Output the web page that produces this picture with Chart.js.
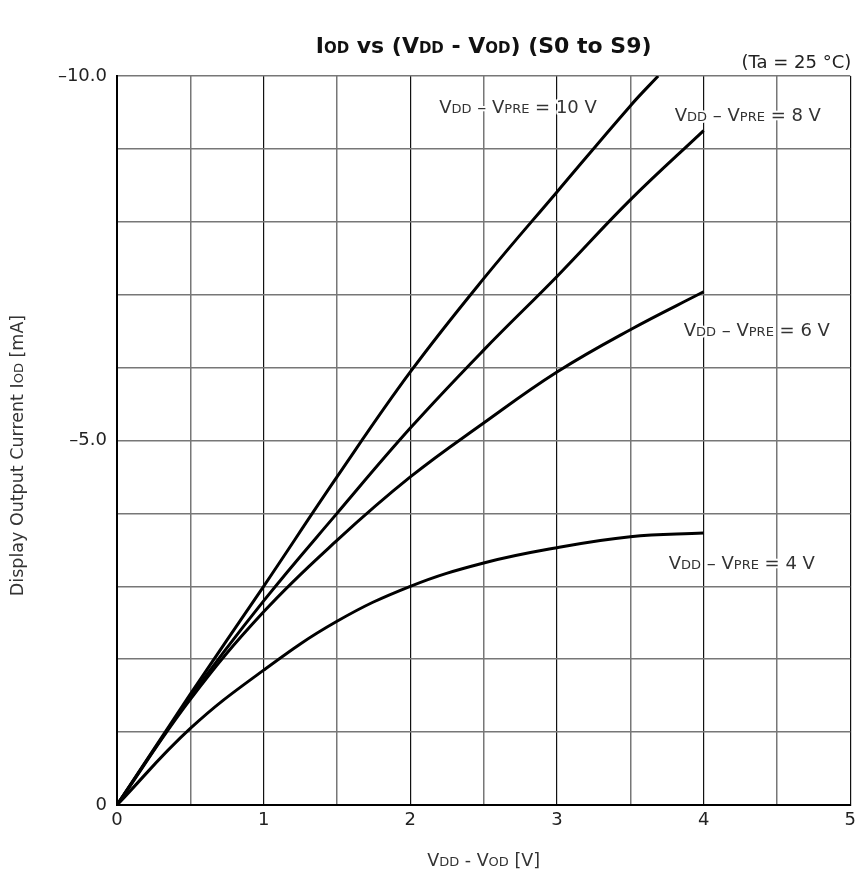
<!DOCTYPE html>
<html>
<head>
<meta charset="utf-8">
<script src="https://cdn.jsdelivr.net/npm/chart.js@4.4.0/dist/chart.umd.min.js"></script>
<style>
  html, body { margin: 0; padding: 0; background: #fff; }
  #wrap { width: 861px; height: 873px; }
</style>
</head>
<body>
<div id="wrap"><canvas id="chart" width="861" height="873"></canvas></div>
<script>
// V_DD - V_OD sample points [V]
const xVolts = [0, 0.5, 1, 1.5, 2, 2.5, 3, 3.5, 4];
const xVolts10 = [0, 0.5, 1, 1.5, 2, 2.5, 3, 3.5, 3.69];

// I_OD [mA] for each V_DD - V_PRE
const iPre10 = [0, -1.52, -3.0, -4.5, -5.94, -7.22, -8.41, -9.59, -10.0];
const iPre8 = [0, -1.48, -2.8, -4.0, -5.17, -6.24, -7.25, -8.3, -9.25];
const iPre6 = [0, -1.45, -2.65, -3.63, -4.5, -5.24, -5.94, -6.52, -7.04];
const iPre4 = [0, -1.05, -1.85, -2.52, -3.0, -3.32, -3.53, -3.68, -3.73];

const yTickLabels = { '-10': '\u201310.0', '-5': '\u20135.0', '0': '0' };
const xTickLabels = ['0', '1', '2', '3', '4', '5'];

// curve labels: [pre-voltage text, x, y] anchored in data units (left edge, middle)
const curveLabels = [
  ['10 V', 2.197, -9.59],
  ['8 V', 3.803, -9.48],
  ['6 V', 3.864, -6.53],
  ['4 V', 3.762, -3.33],
];

const FONT = '"DejaVu Sans", "Liberation Sans", sans-serif';

function toPoints(xs, ys) {
  return xs.map((x, i) => ({ x: x, y: ys[i] }));
}

// draw text made of big / small (subscript-like) parts
function drawRich(ctx, parts, x, y, opts) {
  const big = opts.big, small = opts.small, weight = opts.bold ? 'bold ' : '';
  let total = 0;
  parts.forEach(p => {
    ctx.font = weight + (p[1] ? small : big) + 'px ' + FONT;
    total += ctx.measureText(p[0]).width;
  });
  let cx = x;
  if (opts.align === 'center') cx = x - total / 2;
  if (opts.align === 'right') cx = x - total;
  ctx.textBaseline = 'alphabetic';
  ctx.textAlign = 'left';
  parts.forEach(p => {
    ctx.font = weight + (p[1] ? small : big) + 'px ' + FONT;
    if (opts.halo) {
      ctx.strokeStyle = '#fff';
      ctx.lineWidth = 4;
      ctx.lineJoin = 'round';
      ctx.strokeText(p[0], cx, y);
    }
    ctx.fillStyle = opts.color || '#222';
    ctx.fillText(p[0], cx, y);
    cx += ctx.measureText(p[0]).width;
  });
}

const textPlugin = {
  id: 'textPlugin',
  afterDraw(chart) {
    const ctx = chart.ctx;
    const xs = chart.scales.x, ys = chart.scales.y;
    const area = chart.chartArea;
    ctx.save();
    // title
    drawRich(ctx, [['I', 0], ['OD', 1], [' vs (V', 0], ['DD', 1], [' - V', 0], ['OD', 1], [') (S0 to S9)', 0]],
      (area.left + area.right) / 2, 53, { big: 22, small: 15, bold: true, align: 'center', color: '#111' });
    // condition note
    drawRich(ctx, [['(Ta = 25 \u00b0C)', 0]], area.right + 1, 68, { big: 18, small: 13, align: 'right', color: '#222' });
    // x axis title
    drawRich(ctx, [['V', 0], ['DD', 1], [' - V', 0], ['OD', 1], [' [V]', 0]],
      (area.left + area.right) / 2, 866, { big: 17.5, small: 13, align: 'center', color: '#333' });
    // y axis title
    ctx.save();
    ctx.translate(23, (area.top + area.bottom) / 2 + 15);
    ctx.rotate(-Math.PI / 2);
    drawRich(ctx, [['Display Output Current I', 0], ['OD', 1], [' [mA]', 0]],
      0, 0, { big: 17.5, small: 13, align: 'center', color: '#333' });
    ctx.restore();
    // curve labels
    curveLabels.forEach(l => {
      const px = xs.getPixelForValue(l[1]);
      const py = ys.getPixelForValue(l[2]) + 7;
      drawRich(ctx, [['V', 0], ['DD', 1], [' \u2013 V', 0], ['PRE', 1], [' = ' + l[0], 0]],
        px, py, { big: 18, small: 13, align: 'left', color: '#333', halo: true });
    });
    ctx.restore();
  }
};

const lineStyle = {
  borderColor: '#000',
  borderWidth: 3,
  pointRadius: 0,
  fill: false,
  tension: 0.4,
};

const chart = new Chart(document.getElementById('chart'), {
  type: 'line',
  data: {
    datasets: [
      Object.assign({ label: '10 V', data: toPoints(xVolts10, iPre10) }, lineStyle),
      Object.assign({ label: '8 V', data: toPoints(xVolts, iPre8) }, lineStyle),
      Object.assign({ label: '6 V', data: toPoints(xVolts, iPre6) }, lineStyle),
      Object.assign({ label: '4 V', data: toPoints(xVolts, iPre4) }, lineStyle),
    ],
  },
  options: {
    responsive: false,
    animation: false,
    layout: { padding: { left: 0, top: 76, right: 9, bottom: 0 } },
    plugins: {
      legend: { display: false },
      title: { display: false },
      tooltip: { enabled: false },
    },
    scales: {
      x: {
        type: 'linear',
        min: 0,
        max: 5,
        afterFit(scale) { scale.height = 68; },
        border: { display: true, color: '#000', width: 2 },
        grid: {
          drawTicks: false,
          color: ctx => (ctx.tick && Number.isInteger(ctx.tick.value)) ? '#111' : '#777',
          lineWidth: ctx => (ctx.tick && Number.isInteger(ctx.tick.value)) ? 1.2 : 1.5,
        },
        ticks: {
          stepSize: 0.5,
          padding: 5,
          color: '#222',
          font: { family: FONT, size: 18 },
          maxRotation: 0,
          autoSkip: false,
          callback: v => Number.isInteger(v) ? xTickLabels[v] : '',
        },
      },
      y: {
        type: 'linear',
        min: -10,
        max: 0,
        reverse: true,
        afterFit(scale) { scale.width = 117; },
        border: { display: true, color: '#000', width: 2 },
        grid: {
          drawTicks: false,
          color: '#777',
          lineWidth: 1.5,
        },
        ticks: {
          stepSize: 1,
          padding: 10,
          color: '#222',
          font: { family: FONT, size: 18 },
          autoSkip: false,
          callback: v => (yTickLabels[String(v)] !== undefined ? yTickLabels[String(v)] : ''),
        },
      },
    },
  },
  plugins: [textPlugin],
});
</script>
</body>
</html>
